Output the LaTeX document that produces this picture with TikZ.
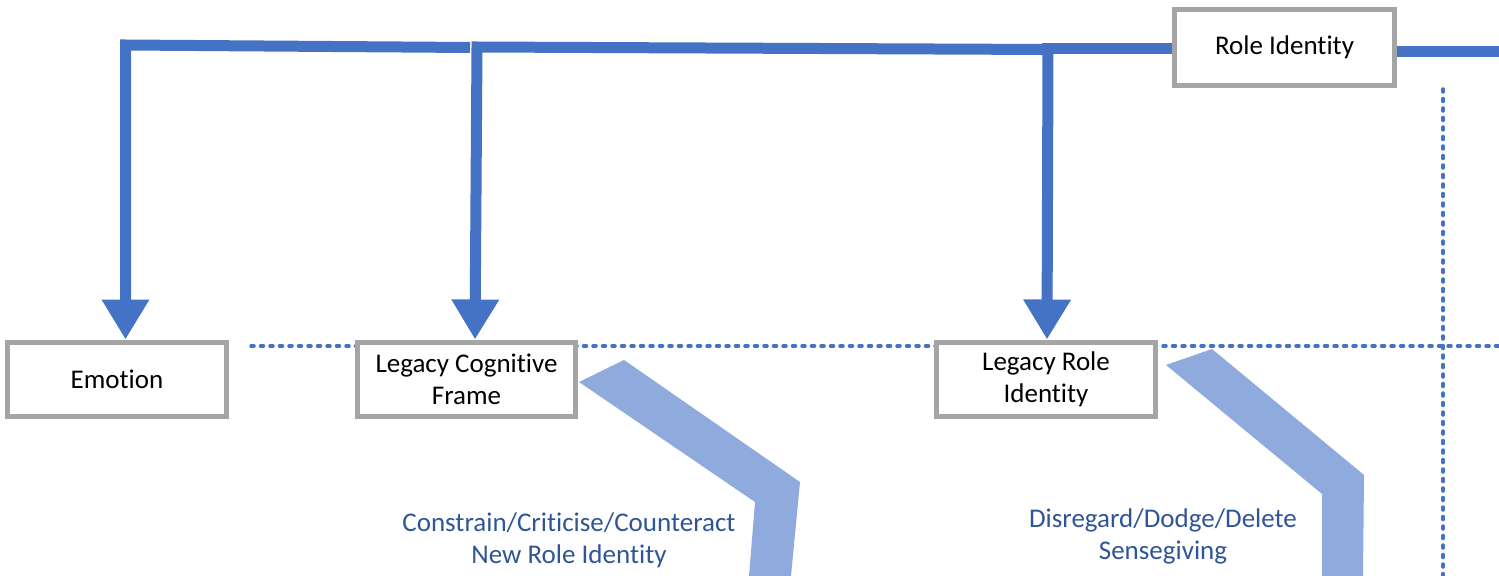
\documentclass[tikz,border=0pt]{standalone}
\usepackage{fontspec}
\setmainfont{Carlito}[RawFeature={-liga;-clig;-dlig}]
\usetikzlibrary{arrows.meta}
\definecolor{trunkblue}{HTML}{4472C4}
\definecolor{bandblue}{HTML}{8FAADC}
\definecolor{labelblue}{HTML}{2F5597}
\definecolor{boxgray}{HTML}{A5A5A5}
\begin{document}
\begin{tikzpicture}[x=1bp,y=-1bp,
  concept/.style={draw=boxgray,line width=5bp,fill=white,align=center,
    font=\fontsize{27bp}{32bp}\selectfont,inner sep=0pt},
  trunk/.style={draw=trunkblue,line width=11bp,line join=miter},
  drop/.style={trunk,-{Triangle[width=45bp,length=40bp]}},
  guide/.style={draw=trunkblue,line width=3.5bp,line cap=round,dash pattern=on 3bp off 6.5bp},
  band/.style={fill=bandblue},
  tactic/.style={text=labelblue,align=center,font=\fontsize{27bp}{32bp}\selectfont,inner sep=0pt}]
\useasboundingbox (0,0) rectangle (1499,576);

% dotted guide lines (behind the boxes)
\coordinate (hL) at (251,346);
\coordinate (hR) at (1499,346);
\coordinate (vT) at (1443,89);
\coordinate (vB) at (1443,576);
\draw[guide] (hL) -- (hR);
\draw[guide] (vT) -- (vB);

% concept boxes
\node[concept,minimum width=218bp,minimum height=74bp] (emo) at (117,379) {Emotion};
\node[concept,minimum width=218bp,minimum height=74bp] (lcf) at (466.5,379) {Legacy Cognitive\\Frame};
\node[concept,minimum width=219bp,minimum height=74bp] (lri) at (1046,379) {Legacy Role\\Identity};
\node[concept,minimum width=220bp,minimum height=76bp] (ri) at (1284.5,47.5) {Role Identity};

% trunk line from Role Identity with its three drops
\coordinate (jA) at (125.5,45);
\coordinate (jAe) at (470,47.5);
\coordinate (jB) at (477,47);
\coordinate (jC) at (1048,49.5);
\coordinate (tailR) at (1499,52);

\draw[trunk] (ri.west |- 0,49) -- (1042,49);
\draw[trunk] (ri.east |- 0,52) -- (tailR);
\draw[drop] (jAe) -- (jA) -- (jA |- emo.north);
\draw[drop] (jC) -- (jB) -- (475,0 |- lcf.north);
\draw[drop] (1043,48.5) -- (jC) -- (1047,0 |- lri.north);

% broad bands leaving the legacy boxes
\fill[band] (579,382) -- (624,360) -- (800,482) -- (791,576) -- (749,576) -- (755,502) -- cycle;
\fill[band] (1166,365) -- (1212,349) -- (1364,475) -- (1363,576) -- (1322,576) -- (1322,494) -- cycle;

% tactic labels
\node[tactic] (t1) at (569,540) {Constrain/Criticise/Counteract\\New Role Identity};
\node[tactic] (t2) at (1163,536) {Disregard/Dodge/Delete\\Sensegiving};
\end{tikzpicture}
\end{document}
